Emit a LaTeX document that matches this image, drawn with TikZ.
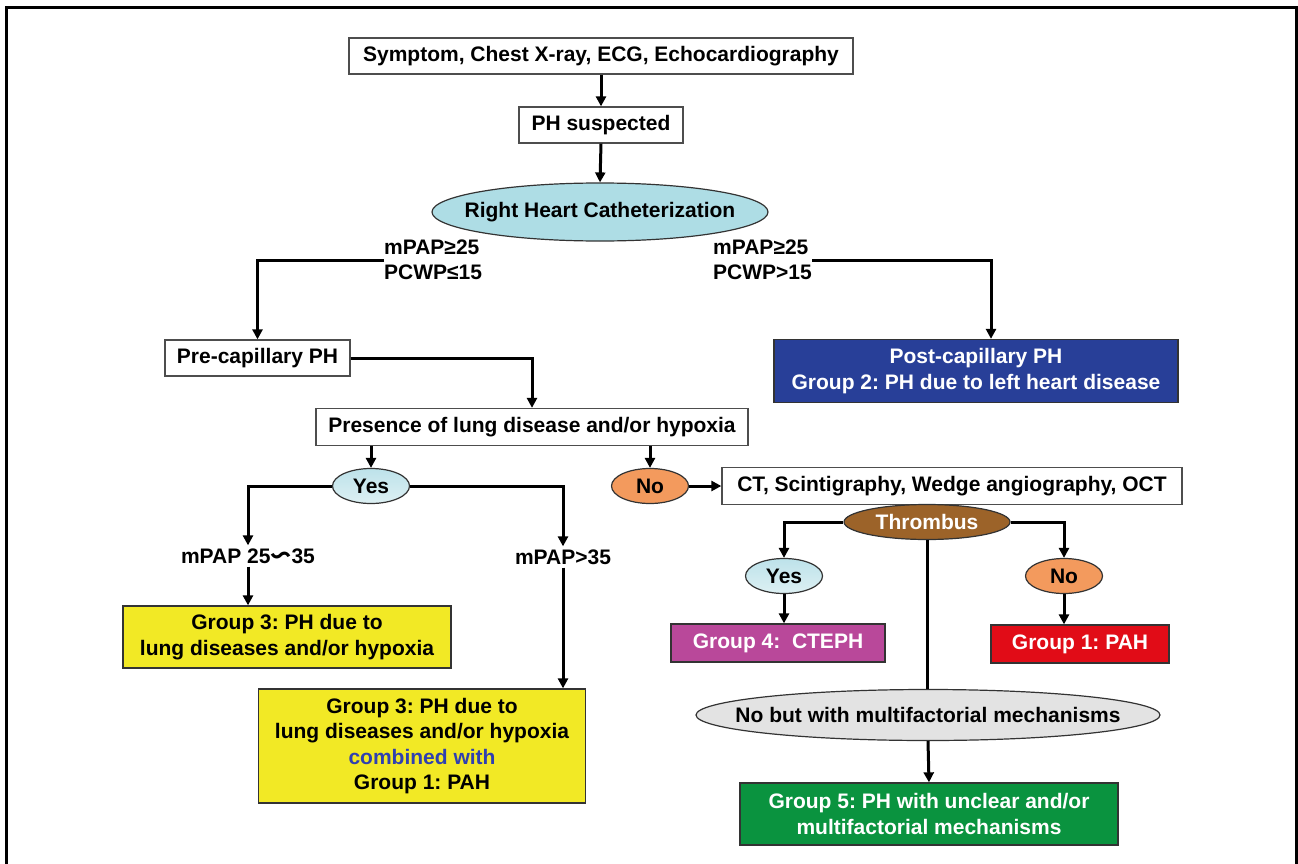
\documentclass[tikz,border=0pt]{standalone}
\usepackage{fontspec}
\setmainfont{Liberation Sans}
\newfontfamily\cjk{Noto Sans CJK JP}
\usetikzlibrary{arrows.meta,shapes.geometric}
\definecolor{bordc}{HTML}{4D4D4D}
\definecolor{rhcblue}{HTML}{AEDDE5}
\definecolor{yestop}{HTML}{BDE2EA}
\definecolor{yesbot}{HTML}{DDF0F3}
\definecolor{noorange}{HTML}{F39A5D}
\definecolor{thrbrown}{HTML}{9C6329}
\definecolor{postblue}{HTML}{283F98}
\definecolor{g4purple}{HTML}{B9489A}
\definecolor{g1red}{HTML}{E10C17}
\definecolor{multigrey}{HTML}{E3E3E3}
\definecolor{g5green}{HTML}{0A933F}
\definecolor{g3yellow}{HTML}{F2E925}
\definecolor{combblue}{HTML}{2F40B0}
\newcommand{\zw}[1]{\makebox[0pt][c]{#1}}
\begin{document}
\begin{tikzpicture}[x=1pt,y=-1pt,
  every node/.style={font=\fontsize{21}{25.5}\selectfont\bfseries\frenchspacing, inner sep=0pt, align=center},
  wbox/.style={draw=bordc, line width=1.3pt, fill=white, rectangle},
  cbox/.style={draw=black!80, line width=1.3pt, rectangle, fill=#1},
  oval/.style={draw=black!80, line width=1.2pt, ellipse},
  lbl/.style={inner ysep=3pt},
  conn/.style={line width=3pt},
  arr/.style={line width=3pt, -{Triangle[width=10pt,length=10pt]}}
]
\clip (0,0) rectangle (1298,864);
\fill[white] (0,0) rectangle (1298,864);
% frame
\draw[line width=3pt] (6,880) -- (6,8) -- (1296,8) -- (1296,880);

% nodes
\node[wbox, minimum width=504pt, minimum height=36pt] (s1) at (601,56) {Symptom, Chest X-ray, ECG, Echocardiography};
\node[wbox, minimum width=164pt, minimum height=36pt] (ph) at (601,125) {PH suspected};
\node[oval, fill=rhcblue, minimum width=336pt, minimum height=58pt] (rhc) at (600,212) {\zw{Right Heart Catheterization}};
\node[anchor=west, align=left] (lab1) at (384,260) {mPAP≥25\\PCWP≤15};
\node[anchor=west, align=left] (lab2) at (713,260) {mPAP≥25\\PCWP>15};
\coordinate (c2) at (991,260);
\node[wbox, minimum width=185pt, minimum height=36pt] (pre) at (257.5,358) {Pre-capillary PH};
\node[cbox=postblue, text=white, minimum width=404pt, minimum height=63pt] (post) at (976,371) {Post-capillary PH\\Group 2: PH due to left heart disease};
\node[wbox, minimum width=432pt, minimum height=37pt] (pres) at (532,427) {Presence of lung disease and/or hypoxia};
\node[oval, top color=yestop, bottom color=yesbot, minimum width=77pt, minimum height=35pt] (yes1) at (371,486) {\zw{Yes}};
\node[oval, fill=noorange, minimum width=77pt, minimum height=35pt] (no1) at (650,486) {\zw{No}};
\node[wbox, minimum width=460pt, minimum height=37pt] (ct) at (952,486) {CT, Scintigraphy, Wedge angiography, OCT};
\node[lbl] (lab3) at (248,556) {mPAP 25{\cjk\reflectbox{〜}}35};
\node[lbl] (lab4) at (563,557) {mPAP>35};
\node[cbox=g3yellow, minimum width=328pt, minimum height=62pt] (g3a) at (287,637) {Group 3: PH due to\\ lung diseases and/or hypoxia};
\node[cbox=g3yellow, minimum width=327pt, minimum height=114pt] (g3b) at (422,746) {Group 3: PH due to\\ lung diseases and/or hypoxia\\ \textcolor{combblue}{combined with}\\ Group 1: PAH};
\node[oval, fill=thrbrown, text=white, minimum width=166pt, minimum height=35pt] (thr) at (927,522) {\zw{Thrombus}};
\node[oval, top color=yestop, bottom color=yesbot, minimum width=77pt, minimum height=35pt] (yes2) at (784,576) {\zw{Yes}};
\node[oval, fill=noorange, minimum width=77pt, minimum height=35pt] (no2) at (1064,576) {\zw{No}};
\node[cbox=g4purple, text=white, minimum width=214pt, minimum height=38pt] (g4) at (778,643) {Group 4:\ \ CTEPH};
\node[cbox=g1red, text=white, minimum width=178pt, minimum height=38pt] (g1) at (1080,644) {Group 1: PAH};
\node[oval, fill=multigrey, minimum width=464pt, minimum height=51pt] (multi) at (928,715) {\zw{No but with multifactorial mechanisms}};
\node[cbox=g5green, text=white, minimum width=378pt, minimum height=62pt] (g5) at (929,814) {Group 5: PH with unclear and/or\\ multifactorial mechanisms};

% connectors
\draw[arr] (s1.south -| ph.north) -- (ph.north);
\draw[arr] (ph.south) -- (rhc.north);
\draw[arr] (lab1.west) -| (pre.north);
\draw[arr] (lab2.east) -- (c2) -- (c2 |- post.north);
\draw[arr] (pre.east) -| (pres.north);
\draw[arr] (pres.south -| yes1.north) -- (yes1.north);
\draw[arr] (pres.south -| no1.north) -- (no1.north);
\draw[arr] (no1.east) -- (ct.west);
\draw[arr] (yes1.west) -| (lab3.north);
\draw[arr] (yes1.east) -| (lab4.north);
\draw[arr] (lab3.south) -- (lab3.south |- g3a.north);
\draw[arr] (lab4.south) -- (lab4.south |- g3b.north);
\draw[arr] (thr.west) -| (yes2.north);
\draw[arr] (thr.east) -| (no2.north);
\draw[arr] (yes2.south) -- (yes2.south |- g4.north);
\draw[arr] (no2.south) -- (no2.south |- g1.north);
\draw[conn] (thr.south) -- (thr.south |- multi.north);
\draw[arr] (multi.south) -- (g5.north);
\end{tikzpicture}
\end{document}
